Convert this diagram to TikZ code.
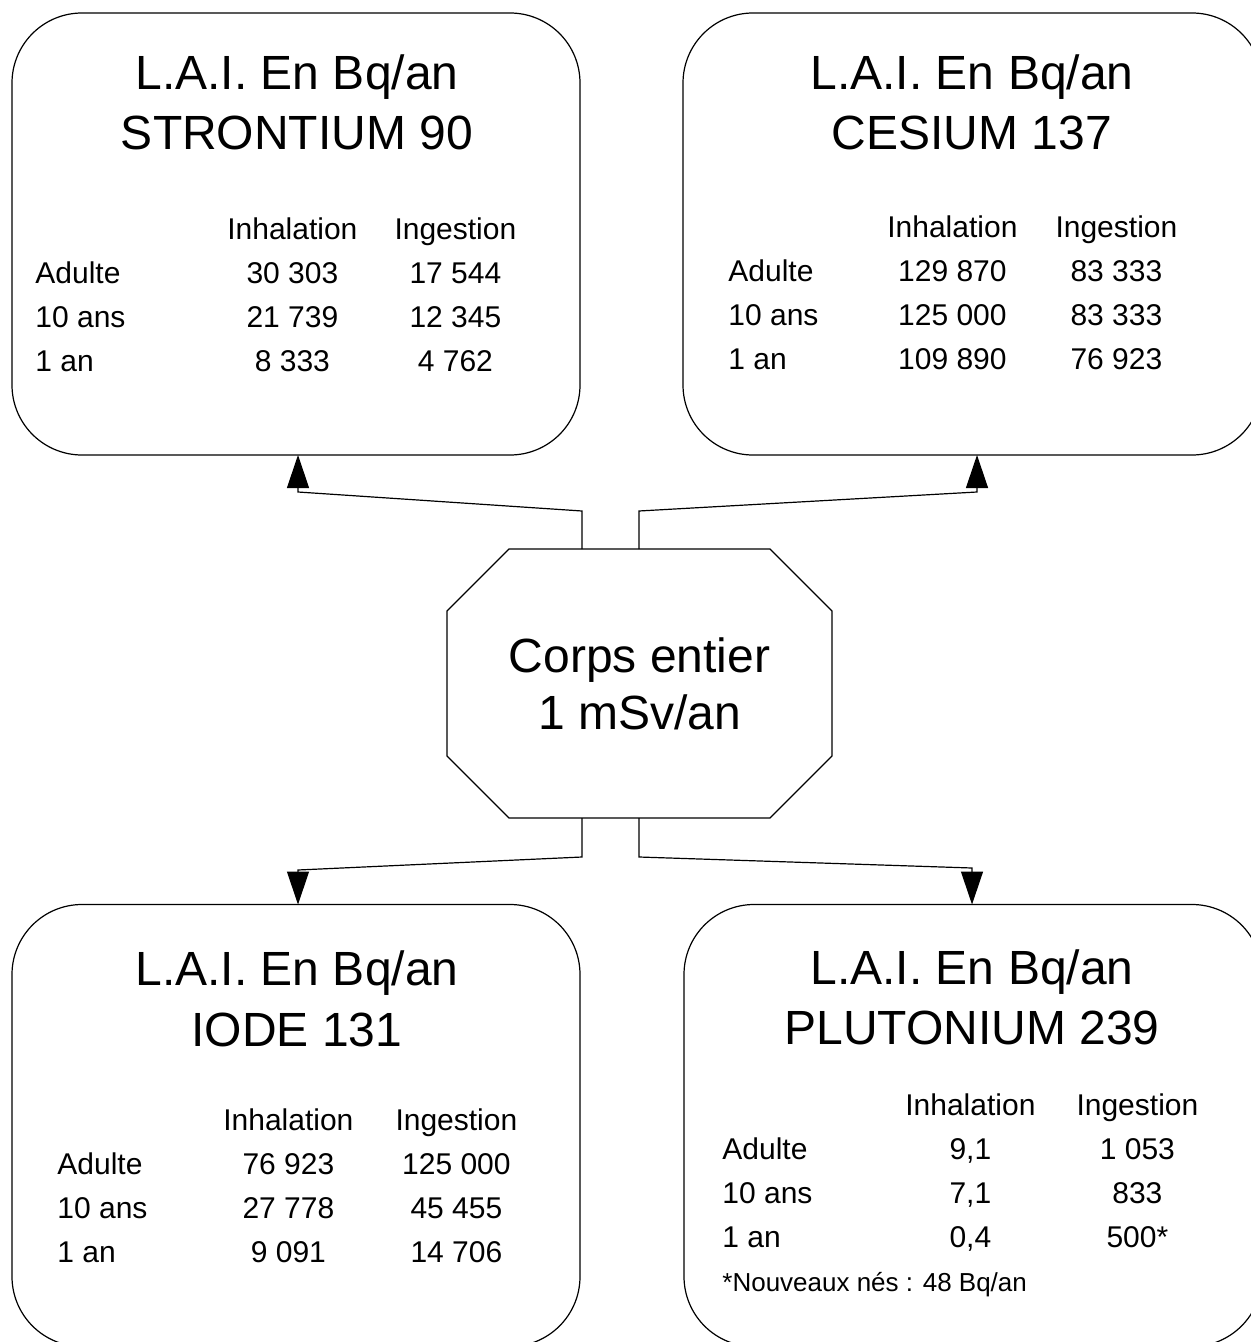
\documentclass[tikz,border=0pt]{standalone}
\usepackage{fontspec}
\setmainfont{Liberation Sans}
\usepackage{array}
\usetikzlibrary{arrows.meta, positioning}
\tikzset{
  laibox/.style   = {rectangle, draw, rounded corners=35pt,
                     line width=0.6pt, outer sep=0pt, inner sep=0pt,
                     minimum width=284pt, minimum height=221pt},
  corpsbox/.style = {rectangle, minimum width=192.5pt, minimum height=134.5pt,
                     inner sep=0pt, outer sep=0pt, align=center,
                     font=\fontsize{24}{28.5}\selectfont},
  titre/.style    = {anchor=base, inner sep=0pt,
                     font=\fontsize{24}{28}\selectfont},
  tab/.style      = {anchor=base west, inner sep=0pt,
                     font=\fontsize{15}{22}\selectfont},
  renvoi/.style   = {anchor=base west, inner sep=0pt,
                     font=\fontsize{13}{15}\selectfont},
  arr/.style      = {-{Triangle[width=11pt,length=16.5pt]}, line width=0.6pt},
}

\begin{document}
\begin{tikzpicture}[x=0.5pt, y=-0.5pt]
\useasboundingbox (0,0) rectangle (1251,1342);
\clip (0,0) rectangle (1251,1342);

% ── Boxes ────────────────────────────────────────────────
\node[laibox] (stro)  at (296,234)    {};
\node[laibox, minimum width=289.5pt] (ces)   at (972.5,234)  {};
\node[laibox] (iode)  at (296,1125.5) {};
\node[laibox, minimum width=289pt] (pluto) at (973,1125.5) {};

% ── Centre (octagon) ─────────────────────────────────────
\node[corpsbox] (corps) at (639.5,683.5) {Corps entier\\1 mSv/an};
\draw[line width=0.6pt]
  ([xshift=31pt]corps.north west) -- ([xshift=-31pt]corps.north east)
  -- ([yshift=-31pt]corps.north east) -- ([yshift=31pt]corps.south east)
  -- ([xshift=-31pt]corps.south east) -- ([xshift=31pt]corps.south west)
  -- ([yshift=31pt]corps.south west) -- ([yshift=-31pt]corps.north west)
  -- cycle;

% ── Titles ───────────────────────────────────────────────
\node[titre] (stro-t1)  at (297,90)   {L.A.I. En Bq/an};
\node[titre] (stro-t2)  at (297,150)  {STRONTIUM 90};
\node[titre] (ces-t1)   at (972,90)   {L.A.I. En Bq/an};
\node[titre] (ces-t2)   at (972,150)  {CESIUM 137};
\node[titre] (iode-t1)  at (297,985)  {L.A.I. En Bq/an};
\node[titre] (iode-t2)  at (297,1046) {IODE 131};
\node[titre] (pluto-t1) at (972,984)  {L.A.I. En Bq/an};
\node[titre] (pluto-t2) at (972,1044) {PLUTONIUM 239};

% ── Tables ───────────────────────────────────────────────
\node[tab] (stro-tab) at (35,240) {%
  \begin{tabular}[t]{@{}w{l}{87.75pt}@{}w{c}{81.5pt}@{}w{c}{81.5pt}@{}}
           & Inhalation & Ingestion\\
    Adulte & 30 303     & 17 544\\
    10 ans & 21 739     & 12 345\\
    1 an   & 8 333      & 4 762
  \end{tabular}};

\node[tab] (ces-tab) at (728,238) {%
  \begin{tabular}[t]{@{}w{l}{71pt}@{}w{c}{82pt}@{}w{c}{82pt}@{}}
           & Inhalation & Ingestion\\
    Adulte & 129 870    & 83 333\\
    10 ans & 125 000    & 83 333\\
    1 an   & 109 890    & 76 923
  \end{tabular}};

\node[tab] (iode-tab) at (57,1130) {%
  \begin{tabular}[t]{@{}w{l}{73.5pt}@{}w{c}{84pt}@{}w{c}{84pt}@{}}
           & Inhalation & Ingestion\\
    Adulte & 76 923     & 125 000\\
    10 ans & 27 778     & 45 455\\
    1 an   & 9 091      & 14 706
  \end{tabular}};

\node[tab] (pluto-tab) at (722,1115) {%
  \begin{tabular}[t]{@{}w{l}{82.25pt}@{}w{c}{83.5pt}@{}w{c}{83.5pt}@{}}
           & Inhalation & Ingestion\\
    Adulte & 9,1        & 1 053\\
    10 ans & 7,1        & 833\\
    1 an   & 0,4        & 500*
  \end{tabular}};
\node[renvoi] (pluto-note) at (722,1291) {*Nouveaux nés : 48 Bq/an};

% ── Connectors ───────────────────────────────────────────
\coordinate (tl-up)   at (582,511);
\coordinate (tl-kink) at (298,492);
\coordinate (tr-up)   at (639,511);
\coordinate (tr-kink) at (977,492);
\coordinate (bl-down) at (582,857);
\coordinate (bl-kink) at (298,870);
\coordinate (br-down) at (639,857);
\coordinate (br-kink) at (972,868);

\draw[arr] (tl-up |- corps.north) -- (tl-up) -- (tl-kink) -- (tl-kink |- stro.south);
\draw[arr] (tr-up |- corps.north) -- (tr-up) -- (tr-kink) -- (tr-kink |- ces.south);
\draw[arr] (bl-down |- corps.south) -- (bl-down) -- (bl-kink) -- (bl-kink |- iode.north);
\draw[arr] (br-down |- corps.south) -- (br-down) -- (br-kink) -- (br-kink |- pluto.north);

\end{tikzpicture}
\end{document}
